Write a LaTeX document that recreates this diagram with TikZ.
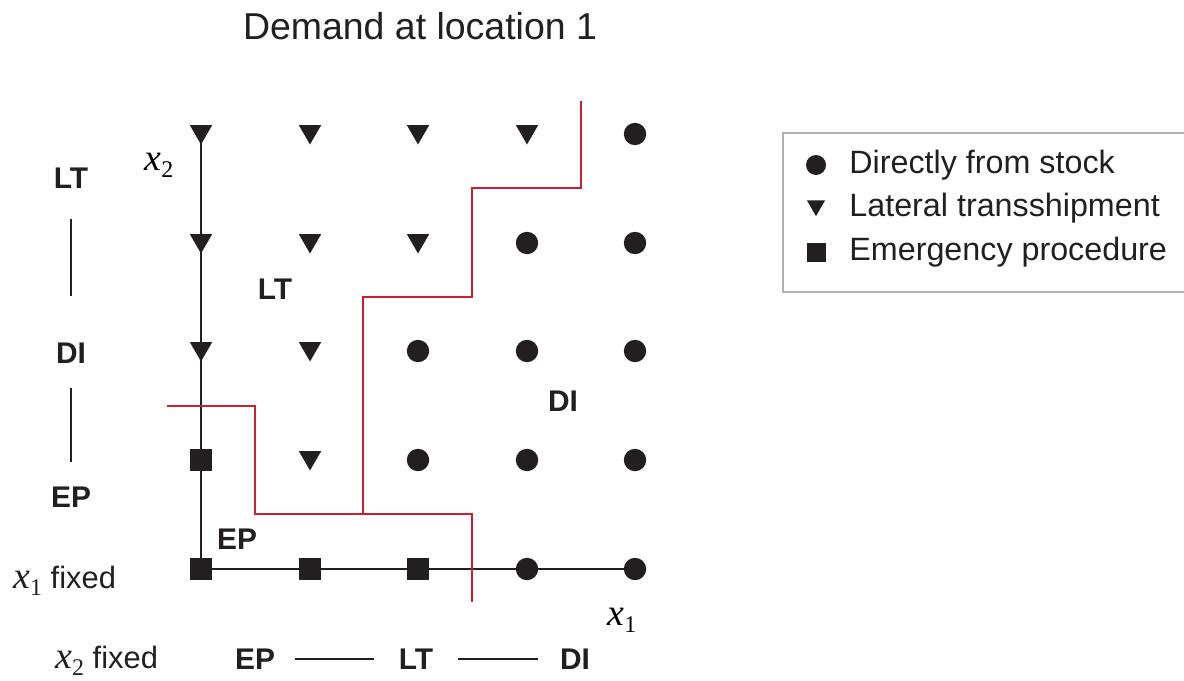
\documentclass[tikz,border=0pt]{standalone}
\usepackage{fontspec}
\setmainfont{Liberation Sans}
\newfontfamily\varfont{Liberation Serif}
\usepackage{tikz}
\usetikzlibrary{arrows,shapes}
\definecolor{ink}{RGB}{35,31,32}
\definecolor{cutred}{RGB}{200,32,44}
\newcommand{\xvar}[1]{{\varfont\fontsize{19}{20}\selectfont\itshape x}\raisebox{-3.5bp}{\varfont\fontsize{12}{13}\selectfont #1}}

\begin{document}
\begin{tikzpicture}[scale=0.5,
  dot/.style={circle,fill=ink,inner sep=0pt,minimum size=11.2bp},
  tri/.style={regular polygon,regular polygon sides=3,shape border rotate=180,fill=ink,inner sep=0pt,minimum size=12.9bp,yshift=1.2bp},
  sq/.style={rectangle,fill=ink,inner sep=0pt,minimum size=11bp},
  lab/.style={font=\fontsize{15}{18}\selectfont\bfseries,inner sep=0pt,text=ink},
  redline/.style={draw=cutred,line width=1.2bp},
  sepline/.style={draw=ink,line width=1.3bp}]
\useasboundingbox (0bp,0bp) rectangle (1184bp,-681bp);
\node (title) at (420bp,-26bp)[font=\fontsize{18.8}{22}\selectfont,text=ink] {Demand at location 1};
% x2 = 5 (top row) down to x2 = 1 (bottom row)
\node (P15) at (201bp,-134bp)[tri] {};
\node (P25) at (310bp,-134bp)[tri] {};
\node (P35) at (418bp,-134bp)[tri] {};
\node (P45) at (527bp,-134bp)[tri] {};
\node (P55) at (635bp,-134bp)[dot] {};
\node (P14) at (201bp,-243bp)[tri] {};
\node (P24) at (310bp,-243bp)[tri] {};
\node (P34) at (418bp,-243bp)[tri] {};
\node (P44) at (527bp,-243bp)[dot] {};
\node (P54) at (635bp,-243bp)[dot] {};
\node (P13) at (201bp,-351bp)[tri] {};
\node (P23) at (310bp,-351bp)[tri] {};
\node (P33) at (418bp,-351bp)[dot] {};
\node (P43) at (527bp,-351bp)[dot] {};
\node (P53) at (635bp,-351bp)[dot] {};
\node (P12) at (201bp,-460bp)[sq] {};
\node (P22) at (310bp,-460bp)[tri] {};
\node (P32) at (418bp,-460bp)[dot] {};
\node (P42) at (527bp,-460bp)[dot] {};
\node (P52) at (635bp,-460bp)[dot] {};
\node (P11) at (201bp,-569bp)[sq] {};
\node (P21) at (310bp,-569bp)[sq] {};
\node (P31) at (418bp,-569bp)[sq] {};
\node (P41) at (527bp,-569bp)[dot] {};
\node (P51) at (635bp,-569bp)[dot] {};
\draw [line width=1.4bp,ink] (P15.center) -- (P11.center) -- (P51.center);
\node (X2) at (159bp,-165bp) {\xvar{2}};
\node (X1) at (622bp,-620bp) {\xvar{1}};
% region borders
\draw [redline] (167bp,-406bp) -- (255bp,-406bp) -- (255bp,-514bp) -- (472bp,-514bp) -- (472bp,-602bp);
\draw [redline] (581bp,-101bp) -- (581bp,-188bp) -- (472bp,-188bp) -- (472bp,-297bp) -- (363bp,-297bp) -- (363bp,-514bp);
\node (iLT) at (275bp,-289bp)[lab] {LT};
\node (iDI) at (563bp,-401bp)[lab] {DI};
\node (iEP) at (237bp,-539bp)[lab] {EP};
% order along x2 and along x1
\node (sLT) at (71bp,-178bp)[lab] {LT};
\node (sDI) at (71bp,-353bp)[lab] {DI};
\node (sEP) at (71bp,-497bp)[lab] {EP};
\draw [sepline,shorten <=15bp,shorten >=23bp] (sLT) -- (sDI);
\draw [sepline,shorten <=12bp,shorten >=12bp] (sDI) -- (sEP);
\node (F1) at (13bp,-588bp)[anchor=base west,inner sep=0pt,font=\fontsize{15.5}{18}\selectfont,text=ink] {\xvar{1} fixed};
\node (F2) at (55bp,-668bp)[anchor=base west,inner sep=0pt,font=\fontsize{15.5}{18}\selectfont,text=ink] {\xvar{2} fixed};
\node (bEP) at (255bp,-659bp)[lab] {EP};
\node (bLT) at (416bp,-659bp)[lab] {LT};
\node (bDI) at (575bp,-659bp)[lab] {DI};
\draw [sepline,shorten <=10bp,shorten >=12bp] (bEP) -- (bLT);
\draw [sepline,shorten <=12bp,shorten >=11bp] (bLT) -- (bDI);
% legend
\draw [draw=gray!60,line width=0.7bp] (1184bp,-133bp) -- (783bp,-133bp) -- (783bp,-292bp) -- (1184bp,-292bp);
\node (kDI) at (816bp,-165bp)[dot,minimum size=10bp] {};
\node (kLT) at (816bp,-208bp)[tri,minimum size=10.5bp] {};
\node (kEP) at (816bp,-252bp)[sq,minimum size=9.5bp] {};
\node (tDI) at (849bp,-165bp)[anchor=west,inner sep=0pt,font=\fontsize{16.2}{19}\selectfont,text=ink] {Directly from stock};
\node (tLT) at (849bp,-208bp)[anchor=west,inner sep=0pt,font=\fontsize{16.2}{19}\selectfont,text=ink] {Lateral transshipment};
\node (tEP) at (849bp,-252bp)[anchor=west,inner sep=0pt,font=\fontsize{16.2}{19}\selectfont,text=ink] {Emergency procedure};
\end{tikzpicture}
\end{document}
